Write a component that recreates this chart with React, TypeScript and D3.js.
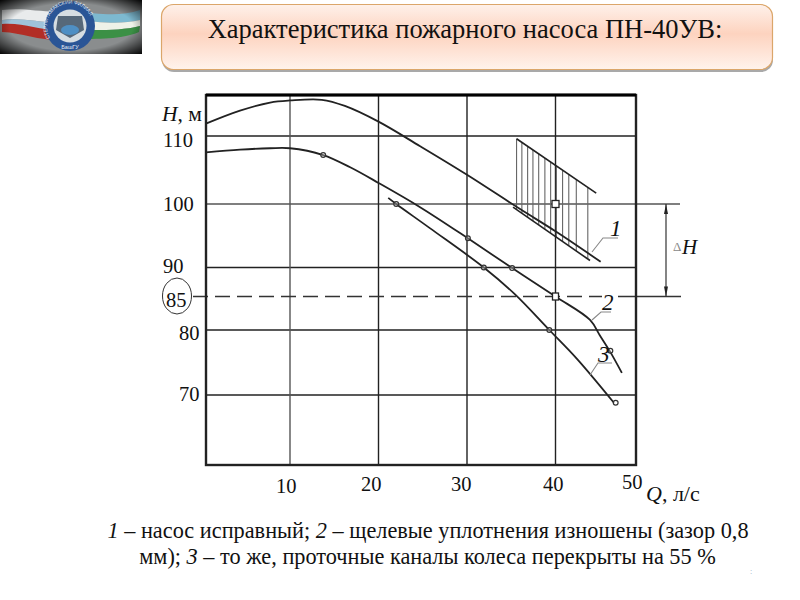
import React from "react";
import * as d3 from "d3";

const hGrid = [110, 100, 90, 80, 70];
const qGrid = [10, 20, 30, 40];
const hLabels = ["110", "100", "90", "85", "80", "70"];
const qLabels = ["10", "20", "30", "40", "50"];

const curve1Q = [0.5, 4.35, 7.75, 10, 13.6, 16.2, 20, 24.7, 30, 36, 40, 45.1];
const curve1H = [111.8, 113.7, 114.9, 115.2, 115.3, 114.4, 112.1, 108.5, 104.3, 99.2, 95.7, 90.9];
const curve2Q = [0.5, 4.35, 7.75, 10, 13.75, 16.8, 20, 24.7, 30.1, 35.1, 40, 43.9, 45, 46.2, 47.5];
const curve2H = [107.6, 108, 108.2, 108.2, 107.2, 105.4, 103.1, 99.5, 94.6, 89.9, 85, 81.5, 79.2, 76.6, 73.4];
const curve3Q = [21.1, 22, 25.8, 31.9, 35.4, 39.3, 42.4, 46.6];
const curve3H = [100.9, 100, 96.2, 90, 85.4, 80, 75.6, 68.8];

const pointsQ = [13.75, 30.1, 35.1, 46.2, 22, 31.9, 39.3, 46.8];
const pointsH = [107.2, 94.6, 89.9, 76.8, 100, 90, 80, 68.8];

const hatchTopQ = [35.6, 44.6];
const hatchTopH = [109.6, 101.6];
const hatchLowQ = [35.2, 43.9];
const hatchLowH = [99.5, 91.1];
const hatchQ = [35.6, 36.2, 36.85, 37.45, 38.1, 38.8, 39.45, 40.1, 40.8, 41.5, 42.35, 43.65];

const W = 800;
const H = 600;
const x = d3.scaleLinear().domain([0, 50]).range([201.5, 644]);
const y = d3.scaleLinear()
  .domain([55, 70, 80, 85, 90, 100, 110, 116])
  .range([492, 395, 330, 296.5, 267.5, 204, 136, 95]);

const left = 206;
const right = 636;
const top = 95;
const bottom = 465;

const line = d3.line<[number, number]>()
  .x((d) => x(d[0]))
  .y((d) => y(d[1]))
  .curve(d3.curveCatmullRom.alpha(0.5));

const zip = (a: number[], b: number[]): [number, number][] => a.map((v, i) => [v, b[i]]);
const hLow = d3.scaleLinear().domain(hatchLowQ).range(hatchLowH);
const hTop = d3.scaleLinear().domain(hatchTopQ).range(hatchTopH);

const serif = "'Liberation Serif', 'DejaVu Serif', serif";
const hDy = [11, 7, 5, 10, 10, 6];
const hX = [163, 163, 163, 166, 179, 179];
const qX = [276, 361, 451, 543, 622];
const qY = [493, 491, 491, 491, 489];
const tickSize = 20.5;

function Logo() {
  return (
    <g>
      <rect x={0} y={0} width={142} height={54} fill="#8a8d8e" />
      <g filter="url(#soft)">
        <path d="M2,10 C25,7 40,13 70,11 L70,22 C40,24 25,17 2,20 Z" fill="#e9ebec" />
        <path d="M2,20 C25,17 40,24 70,22 L70,30 C40,32 25,24 2,24 Z" fill="#9fc3da" />
        <path d="M2,24 C25,22 40,32 70,30 L70,40 C40,42 25,33 2,32 Z" fill="#b22f26" />
        <path d="M72,11 C100,14 120,17 140,10 L140,20 C120,25 100,22 72,20 Z" fill="#7db9d0" />
        <path d="M72,20 C100,22 120,25 140,20 L140,26 C120,31 100,30 72,30 Z" fill="#eef2e8" />
        <path d="M72,30 C100,30 120,31 140,26 L139,32 C120,40 100,38 72,40 Z" fill="#3a9044" />
        <circle cx={70} cy={26} r={25} fill="#2a5596" />
        <circle cx={70} cy={26} r={16.5} fill="#d6dde2" />
        <path d="M58,16 L82,16 L84,30 L70,38 L56,30 Z" fill="#56687a" />
        <ellipse cx={70} cy={30} rx={9} ry={5} fill="#4f8fc4" />
      </g>
      <path id="ringArc" d="M50,38 A23,23 0 1 1 90,38" fill="none" />
      <text fontSize={5} fill="#e8eef5" fontFamily="'Liberation Sans', sans-serif">
        <textPath href="#ringArc">СТЕРЛИТАМАКСКИЙ ФИЛИАЛ</textPath>
      </text>
      <text x={70} y={49} fontSize={5.5} fill="#e8eef5" textAnchor="middle" fontFamily="'Liberation Sans', sans-serif">БашГУ</text>
      <rect x={0} y={0} width={142} height={54} fill="url(#vig)" />
    </g>
  );
}

export default function App() {
  const stroke = "#222";
  return (
    <svg width={W} height={H} viewBox={`0 0 ${W} ${H}`} style={{ position: "absolute", left: 0, top: 0, background: "#fff" }}>
      <defs>
        <linearGradient id="title" x1="0" y1="0" x2="0" y2="1">
          <stop offset="0" stopColor="#fef1ea" />
          <stop offset="0.45" stopColor="#fdd3bf" />
          <stop offset="1" stopColor="#fff3ec" />
        </linearGradient>
        <radialGradient id="vig" cx="0.5" cy="0.5" r="0.7">
          <stop offset="0.62" stopColor="#000" stopOpacity="0" />
          <stop offset="1" stopColor="#000" stopOpacity="0.95" />
        </radialGradient>
        <filter id="soft"><feGaussianBlur stdDeviation="0.6" /></filter>
      </defs>

      <Logo />

      <rect x={162} y={7} width={611} height={65} rx={12} fill="#a9a9a9" />
      <rect x={161.5} y={4.5} width={611} height={65} rx={12} fill="url(#title)" stroke="#dba66a" strokeWidth={1.2} />
      <text x={465} y={38} textAnchor="middle" fontFamily={serif} fontSize={26.5} fill="#111">Характеристика пожарного насоса ПН-40УВ:</text>

      {hGrid.map((v) => (
        <line key={v} x1={left} x2={v === 100 ? 680 : right} y1={y(v)} y2={y(v)} stroke={v === 100 ? "#555" : stroke} strokeWidth={1.6} />
      ))}
      {qGrid.map((v) => (
        <line key={v} x1={x(v)} x2={x(v)} y1={top} y2={bottom} stroke={v === 10 ? "#555" : stroke} strokeWidth={1.4} />
      ))}

      <line x1={193} x2={602} y1={y(85)} y2={y(85)} stroke="#333" strokeWidth={1.3} strokeDasharray="15 7" />
      <line x1={618} x2={681} y1={y(85)} y2={y(85)} stroke="#333" strokeWidth={1.3} />

      <rect x={left} y={top} width={right - left} height={bottom - top} fill="none" stroke="#222" strokeWidth={2.4} />
      <line x1={left} x2={right} y1={top} y2={top} stroke="#000" strokeWidth={3} />

      {hatchQ.map((q) => (
        <line key={q} x1={x(q)} x2={x(q)} y1={y(hTop(q))} y2={y(hLow(q))} stroke="#666" strokeWidth={1.1} />
      ))}
      <path d={d3.line()(zip(hatchTopQ, hatchTopH).map((d) => [x(d[0]), y(d[1])]))!} stroke={stroke} strokeWidth={1.6} fill="none" />
      <path d={d3.line()(zip(hatchLowQ, hatchLowH).map((d) => [x(d[0]), y(d[1])]))!} stroke={stroke} strokeWidth={1.6} fill="none" />

      <path d={line(zip(curve1Q, curve1H))!} fill="none" stroke={stroke} strokeWidth={1.8} />
      <path d={line(zip(curve2Q, curve2H))!} fill="none" stroke={stroke} strokeWidth={1.8} />
      <path d={line(zip(curve3Q, curve3H))!} fill="none" stroke={stroke} strokeWidth={1.8} />

      {pointsQ.map((q, i) => (
        <circle key={i} cx={x(q)} cy={y(pointsH[i])} r={2.4} fill="#fff" fillOpacity={0.3} stroke="#333" strokeWidth={1.2} />
      ))}
      <rect x={x(40) - 3.5} y={y(100) - 3.5} width={7} height={7} fill="#fff" stroke="#222" strokeWidth={1.3} />
      <rect x={x(40) - 3} y={y(85) - 3.5} width={6} height={7} fill="#fff" stroke="#222" strokeWidth={1.3} />

      <line x1={666} x2={666} y1={y(100)} y2={y(85)} stroke="#333" strokeWidth={1.2} />
      <path d={`M666,${y(100)} l-2,10 l4,0 Z`} fill="#222" />
      <path d={`M666,${y(85)} l-2,-10 l4,0 Z`} fill="#222" />
      <text x={673} y={251} fontFamily={serif} fontSize={13} fill="#888">Δ</text>
      <text x={682} y={254} fontFamily={serif} fontSize={21} fontStyle="italic" fill="#111">Н</text>

      <path d="M592,252 L603,238 L618,238" fill="none" stroke="#888" strokeWidth={1.1} />
      <text x={610} y={236} fontFamily={serif} fontSize={23} fontStyle="italic" fill="#111">1</text>
      <path d="M592,320 L601,312 L611,312" fill="none" stroke="#888" strokeWidth={1.1} />
      <text x={602} y={310} fontFamily={serif} fontSize={23} fontStyle="italic" fill="#111">2</text>
      <path d="M590,375 L598,363 L612,363" fill="none" stroke="#888" strokeWidth={1.1} />
      <text x={598} y={362} fontFamily={serif} fontSize={23} fontStyle="italic" fill="#111">3</text>

      <ellipse cx={177} cy={296} rx={14.5} ry={18} fill="none" stroke="#333" strokeWidth={1} />

      <text x={162} y={121} fontFamily={serif} fontSize={21.5} fill="#111"><tspan fontStyle="italic">Н</tspan>, м</text>
      {hLabels.map((t, i) => (
        <text key={t} x={hX[i]} y={y(+t) + hDy[i]} fontFamily={serif} fontSize={tickSize} fill="#111">{t}</text>
      ))}
      {qLabels.map((t, i) => (
        <text key={t} x={qX[i]} y={qY[i]} fontFamily={serif} fontSize={tickSize} fill="#111">{t}</text>
      ))}
      <text x={646} y={501} fontFamily={serif} fontSize={22} fill="#111"><tspan fontStyle="italic">Q</tspan>, л/с</text>

      <text x={428} y={538} textAnchor="middle" fontFamily={serif} fontSize={22.3} fill="#111">
        <tspan fontStyle="italic">1</tspan> – насос исправный; <tspan fontStyle="italic">2</tspan> – щелевые уплотнения изношены (зазор 0,8
      </text>
      <text x={427.5} y={564} textAnchor="middle" fontFamily={serif} fontSize={22.3} fill="#111">
        мм); <tspan fontStyle="italic">3</tspan> – то же, проточные каналы колеса перекрыты на 55 %
      </text>
      <text x={750} y={574} fontFamily={serif} fontSize={8} fill="#9ab">:</text>
    </svg>
  );
}
